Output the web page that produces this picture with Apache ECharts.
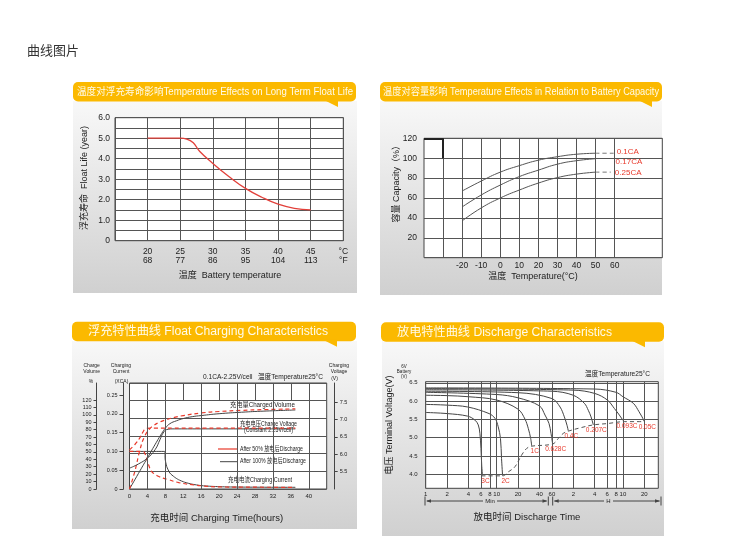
<!DOCTYPE html>
<html>
<head>
<meta charset="utf-8">
<script src="https://cdn.jsdelivr.net/npm/echarts@6/dist/echarts.min.js"></script>
<style>
  html, body { margin: 0; padding: 0; background: #fff; }
  #main { width: 731px; height: 558px; }
</style>
</head>
<body>
<div id="main"></div>
<script>
// 温度对浮充寿命影响
const lifeTemp = [20, 22.5, 25, 26, 27, 28, 30, 32.5, 35, 37.5, 40, 42.5, 45]
const lifeYears = [5.0, 5.0, 5.0, 4.96, 4.78, 4.35, 3.77, 3.12, 2.55, 2.12, 1.78, 1.58, 1.5]
const lifeTicksC = [20, 25, 30, 35, 40, 45]
const lifeTicksF = [68, 77, 86, 95, 104, 113]

// 温度对容量影响
const capTemp = [-20, -10, 0, 10, 20, 30, 40, 50]
const cap01 = [67, 77, 86, 92.5, 98, 101.5, 104, 105]
const cap017 = [51, 63, 73, 81.5, 88, 94, 97.5, 99.5]
const cap025 = [37, 50, 60, 68, 75, 80.5, 84, 86]
const cap01TailX = [50, 60]
const cap01TailY = [105, 105]
const cap025TailX = [50, 58]
const cap025TailY = [86, 86]
const capGridTemps = [-30, -20, -10, 0, 10, 20, 30, 40, 50, 60]

// 浮充特性 (hours)
const volTimeB = [0, 2, 4, 6, 7.2, 8, 9, 10.5, 12, 14, 16, 20, 25, 30, 37]
const volB = [0, 21, 42, 63, 75, 82, 88, 92, 95, 97.5, 99, 101.5, 103.5, 105, 106.5]
const volTimeR = [0, 1.2, 2.3, 3.3, 4.5, 5.5, 6.5, 8, 10, 12, 16, 20, 25, 30, 37]
const volR = [0, 24, 52, 70, 81, 86, 89.5, 93, 96.5, 99, 102.5, 104.5, 106, 107, 108]
const curTimeB = [0, 7.9, 7.95, 8.3, 9.0, 10.0, 10.9, 12.3, 13.9, 16, 18.4, 22, 28, 37]
const curB = [0.10, 0.10, 0.08, 0.06, 0.0425, 0.032, 0.025, 0.018, 0.013, 0.009, 0.007, 0.0055, 0.0048, 0.0045]
const curTimeR = [0, 3.0, 3.4, 3.8, 4.3, 4.9, 5.6, 6.4, 7.5, 8.7, 11, 13.9, 16.5, 19.9, 28, 37]
const curR = [0.10, 0.10, 0.095, 0.082, 0.063, 0.047, 0.04, 0.034, 0.029, 0.025, 0.017, 0.0115, 0.008, 0.0055, 0.0048, 0.0045]
const voltTimeB = [0, 2, 4, 5.7, 6.8, 7.5, 8.3, 10, 20, 37]
const voltB = [5.6, 5.72, 5.89, 6.13, 6.42, 6.61, 6.71, 6.73, 6.73, 6.73]
const voltTimeR = [0, 1.2, 2.3, 3.1, 3.6, 5, 20, 37]
const voltR = [6.13, 6.28, 6.47, 6.66, 6.74, 6.75, 6.75, 6.75]
const chargeGridFull = [4, 8, 16, 24, 32, 40]
const chargeGridTop = [12, 20, 28, 36]
const volTicks = [0, 10, 20, 30, 40, 50, 60, 70, 80, 90, 100, 110, 120]
const curTicks = [0, 0.05, 0.10, 0.15, 0.20, 0.25]
const voltTicks = [5.5, 6.0, 6.5, 7.0, 7.5]

// 放电特性 (minutes, V)
const t3C = [1, 2, 3.9, 4.95, 5.5, 5.8, 6.0, 6.15, 6.3]
const v3C = [5.69, 5.66, 5.59, 5.48, 5.35, 5.12, 4.71, 4.25, 3.97]
const t2C = [1, 2, 3.9, 7.8, 9.46, 10.5, 11.3, 11.7, 12.1]
const v2C = [5.91, 5.89, 5.84, 5.66, 5.53, 5.3, 4.98, 4.43, 3.96]
const t1C = [1, 2, 4, 10, 20, 25, 27.9, 30.1, 31.1]
const v1C = [6.16, 6.15, 6.12, 6.03, 5.78, 5.51, 5.25, 4.98, 4.78]
const t0628C = [1, 10, 20, 40, 47.9, 54.5, 58.2, 61.4]
const v0628C = [6.24, 6.18, 6.09, 5.87, 5.62, 5.39, 5.12, 4.82]
const t04C = [1, 20, 60, 78, 89.7, 97.8, 101.9]
const v04C = [6.27, 6.23, 6.07, 5.84, 5.57, 5.34, 5.19]
const t0207C = [1, 60, 120, 171.7, 195, 213, 229.6]
const v0207C = [6.31, 6.27, 6.16, 5.94, 5.75, 5.57, 5.35]
const t0093C = [1, 120, 240, 362, 454, 534, 589, 620]
const v0093C = [6.34, 6.3, 6.21, 6.03, 5.8, 5.62, 5.5, 5.45]
const t005C = [1, 240, 480, 600, 841, 1011, 1114, 1201]
const v005C = [6.36, 6.33, 6.24, 6.12, 5.94, 5.71, 5.57, 5.44]
const endTime = [6.15, 12.2, 14.6, 18.1, 22.5, 26.5, 31.1, 61.5, 73.8, 86.7, 101.9, 157, 229, 372, 626, 1199]
const endVolt = [3.96, 3.96, 4.07, 4.21, 4.53, 4.71, 4.77, 4.83, 4.98, 5.12, 5.18, 5.28, 5.35, 5.39, 5.44, 5.44]
const rateNames = ['3C', '2C', '1C', '0.628C', '0.4C', '0.207C', '0.093C', '0.05C']
const minuteTicks = [1, 2, 4, 6, 8, 10, 20, 40, 60]
const hourTicks = [2, 4, 6, 8, 10, 20]
const dischargeVoltTicks = [4.0, 4.5, 5.0, 5.5, 6.0, 6.5]

const FONT = '"Liberation Sans", "Noto Sans CJK SC", sans-serif'
const RED = '#e8392b'
const GRIDC = '#555'
const zip = (xs, ys) => xs.map((x, i) => [x, ys[i]])
const last = (xs, ys) => [xs[xs.length - 1], ys[ys.length - 1]]

const ctx = document.createElement('canvas').getContext('2d')
function fit(text, x, y, w, size, color) {
  ctx.font = size + 'px ' + FONT
  const sx = w / ctx.measureText(text).width
  return { type: 'text', x: x, y: y, scaleX: sx,
    style: { text: text, fontFamily: FONT, fontSize: size, fill: color || '#222', verticalAlign: 'middle' } }
}
function label(text, x, y, size, extra) {
  return Object.assign({ type: 'text', x: x, y: y,
    style: { text: text, fontFamily: FONT, fontSize: size, fill: '#222', align: 'center', verticalAlign: 'middle', lineHeight: size + 1 } }, extra || {})
}
function panel(x, y, w, h) {
  return { type: 'rect', z: -5, shape: { x: x, y: y, width: w, height: h },
    style: { fill: new echarts.graphic.LinearGradient(0, 0, 0, 1, [
      { offset: 0, color: '#f8f8f8' }, { offset: 1, color: '#d0d0d0' }]) } }
}
function banner(x, y, w, tailX, text, tx, tw, size) {
  return [
    { type: 'rect', shape: { x: x, y: y, width: w, height: 19.5, r: 5 }, style: { fill: '#fbb900' } },
    { type: 'polygon', shape: { points: [[tailX - 14, y + 18], [tailX, y + 18], [tailX, y + 25]] }, style: { fill: '#fbb900' } },
    fit(text, tx, y + 10, tw, size, '#fffbea')
  ]
}
function line(x1, y1, x2, y2, color, w) {
  return { type: 'line', shape: { x1: x1, y1: y1, x2: x2, y2: y2 }, style: { stroke: color || '#444', lineWidth: w || 1 } }
}
function tri(points) {
  return { type: 'polygon', shape: { points: points }, style: { fill: '#444' } }
}

const smoothLine = (name, xi, yi, data, color, dashed, width, smooth) => ({
  name: name, type: 'line', xAxisIndex: xi, yAxisIndex: yi, data: data,
  smooth: smooth === undefined ? 0.5 : smooth, showSymbol: false, symbol: 'none', silent: true,
  lineStyle: { color: color, width: width || 1, type: dashed ? [4, 3] : 'solid' }
})
const tagPoint = (coord, text, pos, dist, offset, size) => ({
  symbol: 'circle', symbolSize: 0, silent: true,
  label: { show: true, position: pos, distance: dist, offset: offset || [0, 0], formatter: text,
    color: RED, fontSize: size, fontFamily: FONT },
  data: [{ coord: coord }]
})

const vlineNoLabel = { symbol: ['none', 'none'], silent: true, label: { show: false },
  lineStyle: { color: GRIDC, width: 1, type: 'solid' } }

// ---------- series ----------
const series = []

// TL
series.push(smoothLine('life', 0, 0, zip(lifeTemp, lifeYears), '#e2403a', false, 1.3, 0.45))

// TR
const s01 = smoothLine('0.1CA', 1, 1, zip(capTemp, cap01), '#555')
s01.markLine = Object.assign({}, vlineNoLabel, {
  data: capGridTemps.map(t => ({ xAxis: t })).concat([
    [{ coord: [-30, 100], lineStyle: { width: 2, color: '#222' } }, { coord: [-30, 120] }],
    [{ coord: [-40, 120], lineStyle: { width: 2, color: '#222' } }, { coord: [-30, 120] }]
  ])
})
series.push(s01)
const s017 = smoothLine('0.17CA', 1, 1, zip(capTemp, cap017), '#555')
s017.markPoint = tagPoint(last(capTemp, cap017), '0.17CA', 'right', 20, [0, 3], 8)
series.push(s017)
series.push(smoothLine('0.25CA', 1, 1, zip(capTemp, cap025), '#555'))
const t01 = smoothLine('0.1CA tail', 1, 1, zip(cap01TailX, cap01TailY), '#777', true)
t01.markPoint = tagPoint(last(cap01TailX, cap01TailY), '0.1CA', 'right', 2, [0, -1], 8)
series.push(t01)
const t025 = smoothLine('0.25CA tail', 1, 1, zip(cap025TailX, cap025TailY), '#777', true)
t025.markPoint = tagPoint(last(cap025TailX, cap025TailY), '0.25CA', 'right', 4, [0, 1], 8)
series.push(t025)

// BL
series.push({
  type: 'line', xAxisIndex: 2, yAxisIndex: 2, data: [[0, 0]], showSymbol: false, symbol: 'none',
  lineStyle: { opacity: 0 }, silent: true,
  markLine: Object.assign({}, vlineNoLabel, {
    data: chargeGridFull.map(t => ({ xAxis: t })).concat(
      chargeGridTop.map(t => [{ coord: [t, 5] }, { coord: [t, 6] }]))
  })
})
series.push(smoothLine('volB', 2, 3, zip(volTimeB, volB), '#444'))
series.push(smoothLine('volR', 2, 3, zip(volTimeR, volR), RED, true, 1.2))
series.push(smoothLine('curB', 2, 4, zip(curTimeB, curB), '#444', false, 1, 0.2))
series.push(smoothLine('curR', 2, 4, zip(curTimeR, curR), RED, true, 1.2))
series.push(smoothLine('voltB', 2, 5, zip(voltTimeB, voltB), '#444'))
series.push(smoothLine('voltR', 2, 5, zip(voltTimeR, voltR), RED, true, 1.2))

// BR
const curves = [[t3C, v3C], [t2C, v2C], [t1C, v1C], [t0628C, v0628C], [t04C, v04C], [t0207C, v0207C], [t0093C, v0093C], [t005C, v005C]]
curves.forEach((c, i) => {
  const s = smoothLine(rateNames[i], 3, 6, zip(c[0], c[1]), '#444', false, 1, 0.35)
  s.markPoint = tagPoint(last(c[0], c[1]), rateNames[i], 'bottom', 2, [3, 0], 6.5)
  series.push(s)
})
const endLine = smoothLine('end', 3, 6, zip(endTime, endVolt), '#555', true, 1, 0.35)
endLine.markLine = {
  symbol: ['none', 'none'], silent: true,
  lineStyle: { color: GRIDC, width: 1, type: 'solid' },
  label: { show: true, position: 'start', distance: 3, formatter: '{b}', fontSize: 6, color: '#222', fontFamily: FONT },
  data: minuteTicks.map(m => ({ xAxis: m, name: String(m) }))
    .concat(hourTicks.map(h => ({ xAxis: h * 60, name: String(h) })))
    .concat(dischargeVoltTicks.map(v => ({ yAxis: v, name: v.toFixed(1), label: { distance: 8 } })))
}
series.push(endLine)

// ---------- axes ----------
const axisText = size => ({ fontFamily: FONT, fontSize: size, color: '#222' })
const off = { show: false }

const xAxis = [
  { gridIndex: 0, type: 'value', min: 15, max: 50, interval: 5, axisLine: off, axisTick: off,
    splitLine: { lineStyle: { color: GRIDC } },
    axisLabel: Object.assign(axisText(8.5), { margin: 7, lineHeight: 8.5,
      formatter: v => { const i = lifeTicksC.indexOf(v); return i >= 0 ? v + '\n' + lifeTicksF[i] : (v === 50 ? '°C\n°F' : '') } }) },
  { gridIndex: 1, type: 'value', min: -40, max: 85, interval: 10, axisLine: off, axisTick: off, splitLine: off,
    axisLabel: Object.assign(axisText(8.5), { margin: 4, formatter: v => (v < -20 || v > 60) ? '' : String(v) }) },
  { gridIndex: 2, type: 'value', min: 0, max: 44, interval: 4, axisLine: off, axisTick: off, splitLine: off,
    axisLabel: Object.assign(axisText(6), { margin: 4, formatter: v => v > 40 ? '' : String(v) }) },
  { gridIndex: 3, type: 'log', logBase: 10, min: 1, max: 1888, axisLine: off, axisTick: off, splitLine: off, axisLabel: off }
]

const yAxis = [
  { gridIndex: 0, type: 'value', min: 0, max: 6, interval: 0.5, axisLine: off, axisTick: off,
    splitLine: { lineStyle: { color: GRIDC } },
    axisLabel: Object.assign(axisText(8.5), { margin: 5, formatter: v => v === 0 ? '0' : (v % 1 === 0 ? v.toFixed(1) : '') }) },
  { gridIndex: 1, type: 'value', min: 0, max: 120, interval: 20, axisLine: off, axisTick: off,
    splitLine: { lineStyle: { color: GRIDC } },
    axisLabel: Object.assign(axisText(8.5), { margin: 7, formatter: v => v === 0 ? '' : String(v) }) },
  { gridIndex: 2, type: 'value', min: 0, max: 6, interval: 1, axisLine: off, axisTick: off, axisLabel: off,
    splitLine: { lineStyle: { color: GRIDC } } },
  { gridIndex: 2, type: 'value', position: 'left', offset: 33, min: 0, max: 142.9, splitLine: off,
    axisLine: { show: true, lineStyle: { color: '#444' } },
    axisTick: { show: true, length: 3, customValues: volTicks, lineStyle: { color: '#444' } },
    axisLabel: Object.assign(axisText(5.5), { margin: 5, customValues: volTicks }) },
  { gridIndex: 2, type: 'value', position: 'left', offset: 6, min: 0, max: 0.282, splitLine: off,
    axisLine: { show: true, lineStyle: { color: '#444' } },
    axisTick: { show: true, length: 4, customValues: curTicks, lineStyle: { color: '#444' } },
    axisLabel: Object.assign(axisText(5.5), { margin: 6, customValues: curTicks, formatter: v => v === 0 ? '0' : v.toFixed(2) }) },
  { gridIndex: 2, type: 'value', position: 'right', offset: 8, min: 5, max: 8.05, splitLine: off,
    axisLine: { show: true, lineStyle: { color: '#444' } },
    axisTick: { show: true, length: 3, customValues: voltTicks, lineStyle: { color: '#444' } },
    axisLabel: Object.assign(axisText(5.5), { margin: 5, customValues: voltTicks, formatter: v => v.toFixed(1) }) },
  { gridIndex: 3, type: 'value', min: 3.62, max: 6.53, axisLine: off, axisTick: off, axisLabel: off, splitLine: off }
]

const gridBox = { show: true, backgroundColor: '#fff', borderColor: '#444', borderWidth: 1 }
const grid = [
  Object.assign({ left: 115, top: 117.7, width: 228.3, height: 123 }, gridBox),
  Object.assign({ left: 424, top: 138.3, width: 238.3, height: 119.4 }, gridBox),
  Object.assign({ left: 129.5, top: 383, width: 197.2, height: 106 }, gridBox),
  Object.assign({ left: 425.7, top: 381.7, width: 232.6, height: 106.6 }, gridBox)
]

// ---------- page furniture ----------
const R = Math.PI / 2
const elements = [
  { type: 'text', x: 27, y: 51, style: { text: '曲线图片', fontFamily: FONT, fontSize: 13, fill: '#333', verticalAlign: 'middle' } },
  panel(73, 101, 284, 192), panel(380, 101, 282, 194), panel(72, 341, 285, 188), panel(382, 341, 282, 195)
].concat(
  banner(73, 82, 283, 338, '温度对浮充寿命影响Temperature Effects on Long Term Float Life', 77, 276, 10),
  banner(380, 82, 282, 652, '温度对容量影响 Temperature Effects in Relation to Battery Capacity', 383, 276, 10),
  banner(72, 321.7, 284, 337, '浮充特性曲线 Float Charging Characteristics', 88, 240, 12),
  banner(381, 322.3, 283, 645, '放电特性曲线 Discharge Characteristics', 397, 215, 12),
  [
    // TL titles
    label('浮充寿命  Float Life (year)', 85, 178, 9, { rotation: R }),
    label('温度  Battery temperature', 230, 276, 9),
    // TR titles
    label('容量 Capacity（%）', 396.7, 181.7, 9, { rotation: R }),
    label('温度  Temperature(°C)', 533, 277, 9),
    // BL texts
    fit('0.1CA-2.25V/cell   温度Temperature25°C', 203, 377, 120, 7),
    label('Charge\nVolume', 91.7, 368.5, 5), label('%', 91, 381.5, 5),
    label('Charging\nCurrent', 121, 368.5, 5), label('(XCA)', 121.5, 381.5, 5),
    label('Charging\nVoltage', 339, 368.5, 5), label('(V)', 334.5, 378.5, 5),
    fit('充电量Charged Volume', 230, 405, 65, 6.5),
    fit('充电电压Charge Voltage', 240, 424, 57, 6.5),
    fit('(Constant 2.25V/cell)', 244, 430.7, 49, 6.5),
    fit('After 50% 放电后Discharge', 240, 449, 63, 6.5),
    fit('After 100% 放电后Discharge', 240, 461.7, 66, 6.5),
    fit('充电电流Charging Current', 228, 480.7, 64, 6.5),
    { type: 'line', shape: { x1: 218, y1: 449, x2: 238, y2: 449 }, style: { stroke: RED, lineWidth: 1.2 } },
    line(220, 461.7, 238, 461.7, '#444', 1),
    label('充电时间 Charging Time(hours)', 216.7, 518.3, 9.5),
    // BR texts
    label('6V\nBattery\n(V)', 404, 371.5, 4.5, { style: { text: '6V\nBattery\n(V)', fontFamily: FONT, fontSize: 4.5, lineHeight: 5, fill: '#222', align: 'center', verticalAlign: 'middle' } }),
    fit('温度Temperature25°C', 585, 374, 65, 7),
    label('电压 Terminal Voltage(V)', 390, 425, 9, { rotation: R }),
    label('放电时间 Discharge Time', 527, 517, 9.5),
    line(425, 496.5, 425, 505.5), line(548.3, 496.5, 548.3, 505.5),
    line(427, 501, 483, 501), line(497, 501, 546.5, 501),
    tri([[426, 501], [431, 499.3], [431, 502.7]]), tri([[547.5, 501], [542.5, 499.3], [542.5, 502.7]]),
    label('Min', 490, 501, 6),
    line(552.7, 496.5, 552.7, 505.5), line(661, 496.5, 661, 505.5),
    line(554.5, 501, 604, 501), line(613, 501, 659.5, 501),
    tri([[553.7, 501], [558.7, 499.3], [558.7, 502.7]]), tri([[660, 501], [655, 499.3], [655, 502.7]]),
    label('H', 608.5, 501, 6)
  ]
)

const chart = echarts.init(document.getElementById('main'))
chart.setOption({
  animation: false,
  backgroundColor: '#fff',
  textStyle: { fontFamily: FONT },
  grid: grid,
  xAxis: xAxis,
  yAxis: yAxis,
  series: series,
  graphic: { elements: elements }
})
</script>
</body>
</html>
